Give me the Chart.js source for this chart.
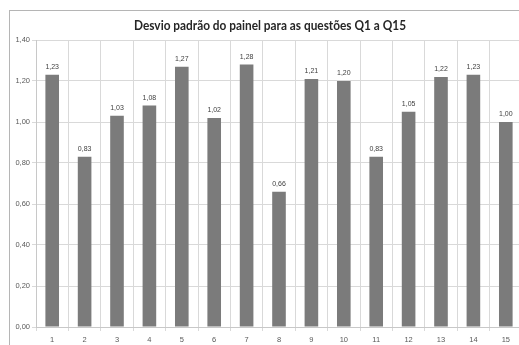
<!DOCTYPE html>
<html>
<head>
<meta charset="utf-8">
<script src="https://cdn.jsdelivr.net/npm/chart.js@4.4.0/dist/chart.umd.min.js"></script>
<style>
  html, body { margin: 0; padding: 0; background: #ffffff; overflow: hidden; width: 519px; height: 345px; }
  #frame { position: absolute; left: 9px; top: 10px; width: 600px; height: 400px;
           border-left: 1px solid #b5b5b5; border-top: 1px solid #b5b5b5; }
  #wrap { position: absolute; left: 0; top: 0; width: 560px; height: 380px; }
</style>
</head>
<body>
<div id="frame"></div>
<div id="wrap"><canvas id="c" width="560" height="380"></canvas></div>
<script>
// Questions Q1..Q15 and the panel's standard deviation for each
const questions = ['1','2','3','4','5','6','7','8','9','10','11','12','13','14','15'];
const stdDev = [1.23, 0.83, 1.03, 1.08, 1.27, 1.02, 1.28, 0.66, 1.21, 1.20, 0.83, 1.05, 1.22, 1.23, 1.00];
const yTicks = [0, 0.2, 0.4, 0.6, 0.8, 1.0, 1.2, 1.4];
const chartTitle = 'Desvio padrão do painel para as questões Q1 a Q15';

const fmt = v => v.toFixed(2).replace('.', ',');

// Title drawn centred over the plot
const titlePlugin = {
  id: 'titleText',
  afterDraw(chart) {
    const ctx = chart.ctx;
    ctx.save();
    ctx.font = 'bold 13px Lato, "Open Sans", sans-serif';
    ctx.fillStyle = '#262626';
    ctx.textAlign = 'center';
    ctx.textBaseline = 'middle';
    ctx.fillText(chartTitle, 270, 26, 272);
    ctx.restore();
  }
};

// Value labels above each bar
const valueLabels = {
  id: 'valueLabels',
  afterDatasetsDraw(chart) {
    const ctx = chart.ctx;
    const meta = chart.getDatasetMeta(0);
    ctx.save();
    ctx.font = '7px "Liberation Sans", "DejaVu Sans", sans-serif';
    ctx.fillStyle = '#404040';
    ctx.textAlign = 'center';
    ctx.textBaseline = 'bottom';
    meta.data.forEach((bar, i) => {
      ctx.fillText(fmt(stdDev[i]), bar.x, bar.y - 4);
    });
    ctx.restore();
  }
};

new Chart(document.getElementById('c'), {
  type: 'bar',
  data: {
    labels: questions,
    datasets: [{
      data: stdDev,
      backgroundColor: '#7b7b7b',
      borderColor: '#8a8a8a',
      borderWidth: 0,
      categoryPercentage: 1,
      barPercentage: 0.42
    }]
  },
  options: {
    responsive: false,
    animation: false,
    layout: { padding: { left: 0, top: 40, right: 38, bottom: 0 } },
    plugins: { legend: { display: false }, title: { display: false }, tooltip: { enabled: false } },
    scales: {
      x: {
        grid: { color: '#d9d9d9', offset: true, tickLength: 4, lineWidth: 1 },
        border: { color: '#c8c8c8' },
        ticks: { color: '#595959', font: { size: 7.5, family: '"Liberation Sans", sans-serif' }, padding: 4, maxRotation: 0 },
        afterFit(s) { s.height = 53; }
      },
      y: {
        min: 0, max: 1.4,
        afterBuildTicks(s) { s.ticks = yTicks.map(v => ({ value: v })); },
        grid: { color: '#d9d9d9', tickLength: 4 },
        border: { color: '#c8c8c8' },
        ticks: { color: '#595959', font: { size: 7.5, family: '"Liberation Sans", sans-serif' }, padding: 2,
                 callback: v => fmt(v) },
        afterFit(s) { s.width = 36; }
      }
    }
  },
  plugins: [titlePlugin, valueLabels]
});
</script>
</body>
</html>
